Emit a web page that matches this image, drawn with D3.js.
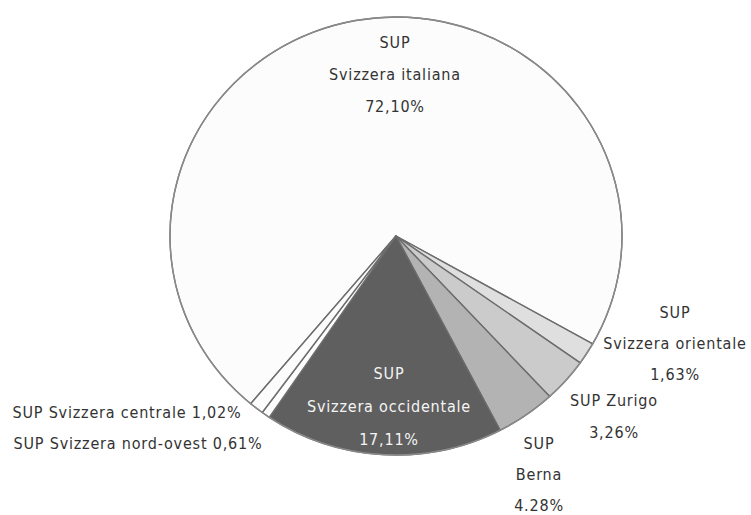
<!DOCTYPE html>
<html>
<head>
<meta charset="utf-8">
<script src="https://cdn.jsdelivr.net/npm/d3@7"></script>
<style>
  html, body { margin: 0; padding: 0; background: #ffffff; }
  svg { display: block; }
  text { font-family: "DejaVu Sans Condensed", "Liberation Sans Narrow", sans-serif; font-stretch: condensed; font-size: 16px; fill: #333333; letter-spacing: 0.8px; }
</style>
</head>
<body>
<svg id="chart" width="751" height="515"></svg>
<script>
// Share of students by SUP region (clockwise from the Ticino slice)
const categories = [
  "SUP Svizzera italiana",
  "SUP Svizzera orientale",
  "SUP Zurigo",
  "SUP Berna",
  "SUP Svizzera occidentale",
  "SUP Svizzera nord-ovest",
  "SUP Svizzera centrale"
];
const values = [72.10, 1.63, 3.26, 4.28, 17.11, 0.61, 1.02];
const valueLabels = ["72,10%", "1,63%", "3,26%", "4.28%", "17,11%", "0,61%", "1,02%"];

// Label lines for each slice
const labelLines = [
  ["SUP", "Svizzera italiana", "72,10%"],
  ["SUP", "Svizzera orientale", "1,63%"],
  ["SUP Zurigo", "3,26%"],
  ["SUP", "Berna", "4.28%"],
  ["SUP", "Svizzera occidentale", "17,11%"],
  ["SUP Svizzera nord-ovest 0,61%"],
  ["SUP Svizzera centrale 1,02%"]
];

const fills = ["#fcfcfc", "#dfdfdf", "#cbcbcb", "#b3b3b3", "#5f5f5f", "#fcfcfc", "#fcfcfc"];
const textFills = ["#333333", "#333333", "#333333", "#333333", "#f4f4f4", "#333333", "#333333"];

// Layout of the pie and text anchors (x centre, y of first line, line step)
const cx = 396, cy = 236, rx = 226, ry = 219;
const labelLayout = [
  { x: 395, y: 42, step: 32 },
  { x: 675, y: 312, step: 31 },
  { x: 614, y: 400, step: 32 },
  { x: 539, y: 443, step: 31 },
  { x: 389, y: 373, step: 33 },
  { x: 138, y: 443, step: 0 },
  { x: 127, y: 412, step: 0 }
];

const svg = d3.select("#chart");
const data = categories.map((c, i) => ({ name: c, value: values[i], i }));

const startDeg = -140;
const pie = d3.pie()
  .sort(null)
  .value(d => d.value)
  .startAngle(startDeg * Math.PI / 180)
  .endAngle((startDeg + 360) * Math.PI / 180);

const arc = d3.arc().innerRadius(0).outerRadius(1);

const g = svg.append("g")
  .attr("transform", `translate(${cx},${cy}) scale(${rx},${ry})`);

g.selectAll("path.slice")
  .data(pie(data))
  .join("path")
  .attr("class", "slice")
  .attr("d", arc)
  .attr("fill", d => fills[d.data.i])
  .attr("stroke", "#6c6c6c")
  .attr("stroke-width", 1.4)
  .attr("stroke-linejoin", "round")
  .attr("vector-effect", "non-scaling-stroke");

// Outer rim
g.append("ellipse")
  .attr("cx", 0).attr("cy", 0).attr("rx", 1).attr("ry", 1)
  .attr("fill", "none")
  .attr("stroke", "#8a8a8a")
  .attr("stroke-width", 1.4)
  .attr("vector-effect", "non-scaling-stroke");

// Labels
const labels = svg.append("g");
labelLines.forEach((lines, i) => {
  const L = labelLayout[i];
  lines.forEach((t, k) => {
    labels.append("text")
      .attr("x", L.x)
      .attr("y", L.y + k * L.step)
      .attr("dy", "0.35em")
      .attr("text-anchor", "middle")
      .style("fill", textFills[i])
      .text(t);
  });
});
</script>
</body>
</html>
